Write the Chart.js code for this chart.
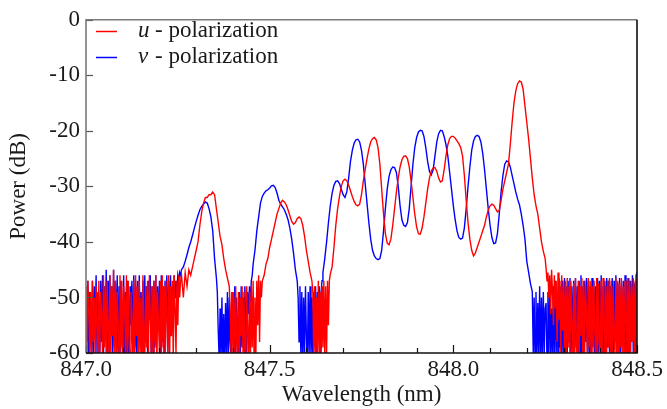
<!DOCTYPE html>
<html><head><meta charset="utf-8">
<script src="https://cdn.jsdelivr.net/npm/chart.js@4"></script>
<style>html,body{margin:0;padding:0;background:#fff;}canvas{display:block;}</style>
</head><body>
<canvas id="c" width="667" height="409"></canvas>
<script>
// ---- data ----
// Each trace is stored in pieces; noisy floor parts use a finer wavelength step.
const FINE = 0.0025, COARSE = 0.005;   // nm
const xTickLabels = ['847.0', '847.5', '848.0', '848.5'];
const yTickValues = [0, -10, -20, -30, -40, -50, -60];
const seriesLabels = ['u - polarization', 'v - polarization'];

// ---- u - polarization (red), power in dB ----
const uLeft = [   // from 847.0000, fine
-48,-61,-47,-52,-60,-49,-62,-47,-58,-50,
-61,-48,-55,-62,-47,-60,-49,-53,-61,-46,
-59,-48,-62,-47,-56,-60,-46,-61,-48,-57,
-45,-62,-47,-60,-49,-54,-61,-46,-59,-47,
-62,-48,-51,-60,-46,-61,-47,-58,-62,-49,
-55,-60,-47,-61,-46,-57,-48,-62,-47,-60,
-50,-61,-46,-56,-62,-48,-59,-47,-61,-46,
-53,-60,-48,-62,-47,-58,-46,-61,-49,-55,
-60,-47,-62,-46,-59,-48,-61,-47,-54,-60,
-46,-62,-48,-57,-47,-61,-46,-52,-60,-47,
-55,-46,-50,-47
];
const uPeak1 = [  // from 847.260, coarse
-46,-50,-45.5,-48,-45,-46,-44.5,-43,-41.5,-40,
-37,-34.6,-33,-32,-32,-31.5,-31.5,-31,-31.5,-34,
-36.5,-39,-40.5,-43,-45,-46.5,-48
];
const uFloor1 = [ // from 847.3925, fine
-52,-61,-49,-60,-50,-62,-48,-58,-61,-49,
-62,-50,-57,-48,-61,-49,-60,-62,-48,-56,
-61,-49,-62,-48,-59,-47,-61,-50,-60,-47,
-55,-46,-58,-47,-50
];
const uPeak2 = [  // from 847.480, coarse
-47,-46,-44,-43,-41,-39.5,-38,-36.5,-35,-34,
-33,-32.5,-32.8,-33.3,-34.2,-35.3,-36.3,-36.8,-36.5,-35.8,
-35.5,-35.8,-37,-39,-41.5,-43.5,-45.5,-47
];
const uFloor2 = [ // from 847.6175, fine
-49,-61,-48,-62,-50,-60,-47,-61,-49,-62,
-48,-59,-47,-61,-48,-60,-47,-55,-47
];
const uMain = [   // from 847.665, coarse
-45.8,-44.5,-41,-37,-34,-31.8,-30,
-29,-28.7,-29,-29.8,-30.8,-31.8,-32.7,-33.3,-33.5,-33.2,
-31.5,-29,-27,-25,-23.3,-22,-21.4,-21.2,-21.6,-23,
-26,-30.5,-35,-38.5,-40.2,-40.5,-39.5,-37,-34,-31,
-28.5,-26.5,-25.2,-24.6,-24.5,-25,-26.5,-29,-32,-35,
-37.3,-38.5,-38.6,-37.5,-35.5,-33,-30.5,-28.5,-27.2,-26.7,
-26.6,-27.3,-28.5,-29.2,-29,-27,-24.5,-22.5,-21.4,-21,
-21,-21.3,-21.8,-22.3,-23,-24.5,-28,-32.5,-36.5,-39.5,
-41.5,-42.5,-42,-41,-40,-39,-38,-37,-35.5,-34.3,
-33.5,-33.2,-33.4,-34,-34.6,-34.3,-32.5,-30.5,-29,-27.5,
-26,-22.5,-18.5,-15,-12.8,-11.5,-11,-11.2,-12.5,-15.5,
-18.5,-21.5,-25,-28.5,-31.5,-33.5,-35,-37.5,-40,-41.7,
-43
];
const uRight = [  // from 848.2525, fine
-44.8,-47,-45.5,-50,-46,-53,-45,-49,-55,-46,
-52,-47,-58,-45.5,-54,-47,-60,-46,-56,-48,
-61,-47,-62,-46.5,-59,-48,-61,-47,-55,-62,
-47.5,-60,-46.5,-58,-62,-47,-61,-48,-57,-46.5,
-62,-47,-60,-48,-53,-61,-46.5,-59,-47,-62,
-48,-60,-47,-56,-61,-46.5,-62,-47.5,-58,-60,
-47,-61,-46.5,-55,-62,-48,-60,-47,-59,-46.5,
-61,-47,-62,-48,-57,-60,-46.5,-61,-47,-62,
-47.5,-59,-46.5,-60,-48,-62,-47,-54,-61,-46.5,
-60,-47,-62,-48,-58,-46.5,-61,-47,-60,-46.5
];

// ---- v - polarization (blue), power in dB ----
const vLeft = [   // from 847.0000, fine
-50,-58,-47,-61,-49,-55,-60,-47,-62,-48,
-56,-46,-60,-49,-53,-61,-47,-58,-46,-62,
-48,-55,-45,-60,-47,-61,-46,-57,-48,-62,
-45,-59,-47,-60,-46,-62,-48,-61,-47,-56,
-62,-46,-60,-49,-61,-47,-58,-62,-48,-55,
-47,-61,-46,-59,-48,-62,-47,-60,-46,-57,
-49,-61,-47,-62,-46,-58,-48,-60,-47,-54,
-46,-61,-48,-62,-47,-59,-46,-60,-48,-56,
-47,-62,-46,-58,-48,-61,-47,-53,-46,-60,
-47,-57,-46,-55,-48,-52,-46,-50,-47,-49,
-46,-47,-45.5,-46
];
const vPeak1 = [  // from 847.260, coarse
-45,-44.5,-43.5,-42.3,-41,-40,-38.8,-37.5,-36.3,-35.2,
-34.2,-33.6,-33.2,-32.8,-33,-34,-35.5,-38,-43,-46.5
];
const vFloor1 = [ // from 847.3575, fine
-49,-56,-61,-52,-62,-50,-61,-53,-62,-51,
-60,-49,-62,-50,-58,-61,-49,-55,-62,-48,
-60,-50,-57,-61,-49,-62,-48,-59,-50,-61,
-48,-56,-60,-49,-53,-48,-51,-47,-46
];
const vPeak2 = [  // from 847.455, coarse
-44,-41.5,-38,-35.5,-33,-31.8,-31.2,-30.8,-30.6,-30.3,
-29.9,-29.8,-30.2,-31.2,-32.5,-33.2,-33.7,-34.2,-35,-36,
-37.5,-39.5,-42,-45,-47
];
const vFloor2 = [ // from 847.5775, fine
-50,-58,-48,-61,-49,-62,-50,-60,-48,-57,
-62,-49,-60,-48,-61,-50,-62,-49,-59,-48,
-61,-49,-56,-48,-60,-49,-47
];
const vMain = [   // from 847.645, coarse
-45.5,
-43,-40,-36.5,-33.5,-31.2,-29.8,-29.1,-29,-29.5,-30.5,
-31.5,-32,-31,-28.5,-25.5,-23.5,-22.2,-21.6,-21.5,-22,
-23.5,-26,-29.5,-33,-36.5,-39.5,-41.5,-42.5,-43,-43.2,
-43,-41.5,-38,-34,-30.5,-28.2,-27,-26.5,-26.6,-27.5,
-30,-33.5,-36,-37,-37.2,-36.5,-34,-30,-26,-23,
-21.2,-20.2,-19.9,-20,-21,-23,-25.5,-27.3,-27.9,-27,
-24.5,-22,-20.5,-19.9,-20,-21,-22.5,-24.5,-27.5,-30.5,
-33.5,-36,-38,-39.2,-39.5,-39.3,-37.5,-34,-30,-26.5,
-23.5,-21.8,-21,-20.8,-21,-22,-24,-27,-30.5,-34,
-37,-39.2,-40.3,-40.2,-38.5,-35,-31,-28,-26,-25.4,
-25.6,-26.5,-28,-29.5,-31,-32.3,-33.3,-35,-37,-39.5,
-43.5,-45.5,-47.5,-49
];
const vRight = [  // from 848.2175, fine
-60,-50,-62,-49,-61,-51,-60,-48,-62,-50,-61,-49,-60,-52,
-51,-62,-49,-61,-48,-60,-52,-62,-48,-61,
-47,-60,-49,-62,-46.5,-59,-48,-61,-47,-62,
-46.5,-60,-48,-61,-47,-58,-46.5,-62,-48,-60,
-47,-61,-46.5,-59,-48,-62,-47,-60,-46,-61,
-48,-62,-47,-58,-46.5,-60,-47,-61,-48,-62,
-46.5,-59,-47,-60,-48,-61,-46.5,-62,-47,-58,
-46,-60,-48,-61,-47,-62,-46.5,-59,-47,-60,
-48,-61,-46.5,-62,-47,-58,-46,-60,-47.5,-61,
-46.5,-62,-48,-59,-47,-60,-46,-61,-47,-62,
-46.5,-60,-47,-58,-46,-61,-47.5,-60,-46,-45.5
];

// pieces: [values, first wavelength (nm), step (nm)]
const uPieces = [[uLeft, 847.0, FINE], [uPeak1, 847.26, COARSE], [uFloor1, 847.3925, FINE],
                 [uPeak2, 847.48, COARSE], [uFloor2, 847.6175, FINE], [uMain, 847.665, COARSE], [uRight, 848.2525, FINE]];
const vPieces = [[vLeft, 847.0, FINE], [vPeak1, 847.26, COARSE], [vFloor1, 847.3575, FINE],
                 [vPeak2, 847.455, COARSE], [vFloor2, 847.5775, FINE], [vMain, 847.645, COARSE], [vRight, 848.2175, FINE]];
const trace = pieces => pieces.flatMap(([arr, start, step]) => arr.map((v, i) => ({ x: +(start + i * step).toFixed(4), y: v })));

const FONT = '"Liberation Serif", "Times New Roman", serif';
const TXT = '#1a1a1a';

const frameTicks = {
  id: 'frameTicks',
  afterDraw(chart) {
    const { ctx, chartArea: { left, right, top, bottom }, scales: { x, y } } = chart;
    ctx.save();
    ctx.lineWidth = 1.2;
    ctx.strokeStyle = '#111';
    x.ticks.forEach(t => {
      const r = Math.round(t.value * 10) / 10;
      const major = xTickLabels.includes(r.toFixed(1));
      const px = Math.round(x.getPixelForValue(r)) + 0.5;
      ctx.beginPath(); ctx.moveTo(px, bottom); ctx.lineTo(px, bottom - (major ? 8 : 5)); ctx.stroke();
    });
    ctx.strokeStyle = '#555';
    y.ticks.forEach(t => {
      const py = Math.round(y.getPixelForValue(t.value)) + 0.5;
      ctx.beginPath(); ctx.moveTo(left, py); ctx.lineTo(left + 7, py); ctx.stroke();
    });
    ctx.lineWidth = 1.6;
    ctx.strokeStyle = '#7a7a7a';
    ctx.beginPath(); ctx.moveTo(left, bottom); ctx.lineTo(left, top); ctx.lineTo(right, top); ctx.stroke();
    ctx.strokeStyle = '#111';
    ctx.beginPath(); ctx.moveTo(right, top); ctx.lineTo(right, bottom); ctx.lineTo(left, bottom); ctx.stroke();
    ctx.restore();
  }
};

const innerLegend = {
  id: 'innerLegend',
  afterDraw(chart) {
    const { ctx } = chart;
    ctx.save();
    ctx.textBaseline = 'alphabetic';
    chart.data.datasets.forEach((ds, k) => {
      const ly = 31.5 + k * 26;
      ctx.strokeStyle = ds.borderColor; ctx.lineWidth = 1.5;
      ctx.beginPath(); ctx.moveTo(96, ly); ctx.lineTo(117, ly); ctx.stroke();
      ctx.fillStyle = TXT;
      ctx.font = 'italic 23px ' + FONT;
      ctx.fillText(ds.label.charAt(0), 138, ly + 5.5);
      ctx.font = '23px ' + FONT;
      ctx.fillText(ds.label.slice(2), 155, ly + 5.5);
    });
    ctx.restore();
  }
};

new Chart(document.getElementById('c'), {
  type: 'line',
  data: {
    datasets: [
      { label: seriesLabels[0], data: trace(uPieces), borderColor: '#ff0000', borderWidth: 1.4, pointRadius: 0, tension: 0, clip: 0 },
      { label: seriesLabels[1], data: trace(vPieces), borderColor: '#0000ff', borderWidth: 1.4, pointRadius: 0, tension: 0, clip: 0 }
    ]
  },
  options: {
    responsive: false,
    animation: false,
    devicePixelRatio: 1,
    events: [],
    layout: { padding: { top: 15, right: 30, left: 0, bottom: 0 } },
    plugins: { legend: { display: false }, tooltip: { enabled: false } },
    scales: {
      x: {
        type: 'linear', min: 847.0, max: 848.5,
        grid: { display: false, drawTicks: false },
        border: { display: false },
        ticks: {
          stepSize: 0.1, autoSkip: false, maxRotation: 0, padding: 3,
          color: TXT, font: { family: FONT, size: 23 },
          callback: v => { const s = (Math.round(v * 10) / 10).toFixed(1); return xTickLabels.includes(s) ? s : ''; }
        },
        title: { display: true, text: 'Wavelength (nm)', color: TXT, font: { family: FONT, size: 23 }, padding: 0 },
        afterFit: s => { s.height = 56; }
      },
      y: {
        min: -60, max: 0,
        grid: { display: false, drawTicks: false },
        border: { display: false },
        ticks: {
          stepSize: 10, padding: 6, color: TXT, font: { family: FONT, size: 23 },
          callback: v => yTickValues.includes(v) ? String(v) : ''
        },
        title: { display: true, text: 'Power (dB)', color: TXT, font: { family: FONT, size: 23 }, padding: { top: 5 } },
        afterFit: s => { s.width = 86; }
      }
    }
  },
  plugins: [frameTicks, innerLegend]
});
</script>
</body></html>
